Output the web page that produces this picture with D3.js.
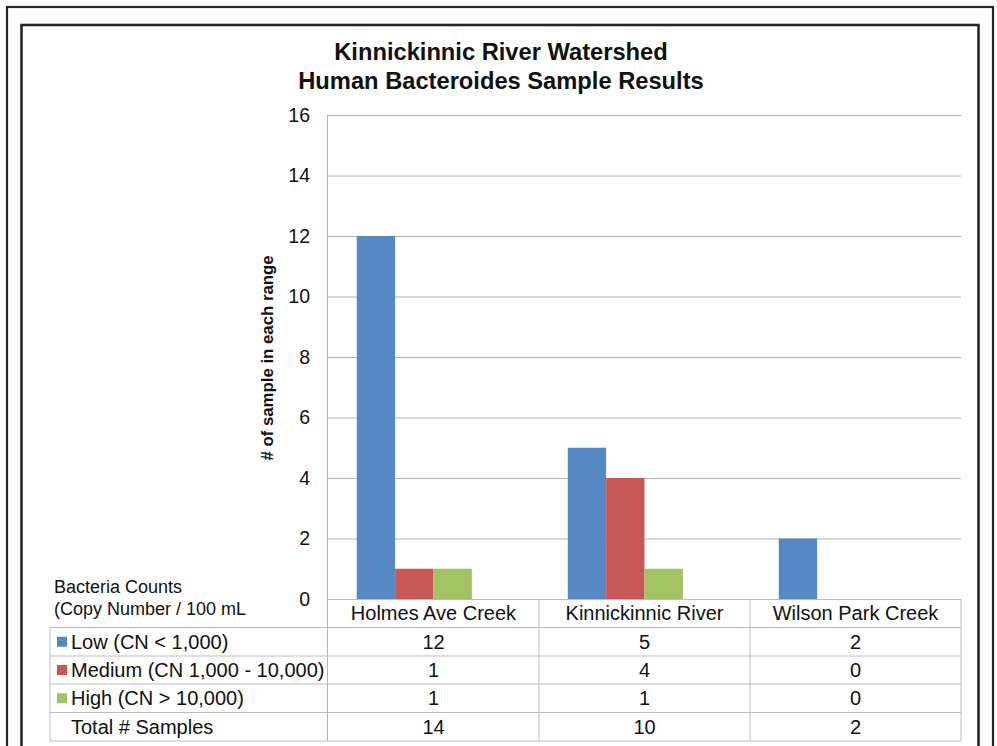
<!DOCTYPE html>
<html>
<head>
<meta charset="utf-8">
<script src="https://cdn.jsdelivr.net/npm/d3@7"></script>
<style>
  html, body { margin: 0; padding: 0; background: #fff; }
  svg { display: block; }
  text { font-family: "Liberation Sans", Arial, sans-serif; fill: #111; }
</style>
</head>
<body>
<svg id="chart" width="997" height="746"></svg>
<script>
const titleLines = ["Kinnickinnic River Watershed", "Human Bacteroides Sample Results"];
const yAxisTitle = "# of sample in each range";
const tableHeader = ["Bacteria Counts", "(Copy Number / 100 mL"];
const categories = ["Holmes Ave Creek", "Kinnickinnic River", "Wilson Park Creek"];
const seriesNames = ["Low (CN < 1,000)", "Medium (CN 1,000 - 10,000)", "High (CN > 10,000)"];
const seriesColors = ["#5689c4", "#c85855", "#a3c264"];
const lowValues = [12, 5, 2];
const mediumValues = [1, 4, 0];
const highValues = [1, 1, 0];
const totalLabel = "Total # Samples";
const totalValues = [14, 10, 2];
const yTicks = [0, 2, 4, 6, 8, 10, 12, 14, 16];

const seriesValues = [lowValues, mediumValues, highValues];

const svg = d3.select("#chart");

// frame borders
svg.append("rect").attr("x", 7).attr("y", 7).attr("width", 986).attr("height", 760)
  .attr("fill", "none").attr("stroke", "#262626").attr("stroke-width", 2.2);
svg.append("rect").attr("x", 21.5).attr("y", 25).attr("width", 957).attr("height", 740)
  .attr("fill", "none").attr("stroke", "#262626").attr("stroke-width", 2.6);

// scales
const plotLeft = 328, plotRight = 961, plotTop = 115, plotBottom = 599;
const x = d3.scaleBand().domain(categories).range([plotLeft, plotRight]).padding(0);
const xs = d3.scaleBand().domain(seriesNames).range([0, x.bandwidth()])
  .paddingInner(0).paddingOuter(1.25).align(0.3);
const y = d3.scaleLinear().domain([0, 16]).range([plotBottom, plotTop]);

const gridColor = "#b4b4b4";

// gridlines
svg.append("g").selectAll("line").data(yTicks.filter(d => d > 0)).join("line")
  .attr("x1", plotLeft).attr("x2", plotRight)
  .attr("y1", d => y(d) + 0.5).attr("y2", d => y(d) + 0.5)
  .attr("stroke", gridColor).attr("stroke-width", 1);

// y axis using d3 axis
const yAxis = d3.axisLeft(y).tickValues(yTicks).tickSize(0).tickPadding(18).tickFormat(d3.format("d"));
const yg = svg.append("g").attr("transform", `translate(${plotLeft},0)`).call(yAxis);
yg.select(".domain").remove();
yg.selectAll("text").style("font-size", "19.5px").style("font-family", '"Liberation Sans", Arial, sans-serif').attr("fill", "#111");

// bars
const groups = svg.append("g").selectAll("g").data(seriesNames).join("g")
  .attr("fill", (d, i) => seriesColors[i]);
groups.selectAll("rect").data((s, si) => categories.map((c, ci) => ({ c, s, v: seriesValues[si][ci] })))
  .join("rect")
  .attr("x", d => x(d.c) + xs(d.s))
  .attr("width", xs.bandwidth())
  .attr("y", d => y(d.v))
  .attr("height", d => y(0) - y(d.v));

// table
const tableLeft = 50;
const rowEdges = [599, 627.5, 656, 684, 712.5, 741];
const tg = svg.append("g").attr("stroke", "#bdbdbd").attr("stroke-width", 1);
tg.append("line").attr("x1", plotLeft).attr("x2", plotRight).attr("y1", rowEdges[0] + 0.5).attr("y2", rowEdges[0] + 0.5);
rowEdges.slice(1).forEach(r => {
  tg.append("line").attr("x1", tableLeft).attr("x2", plotRight).attr("y1", r).attr("y2", r);
});
tg.append("line").attr("x1", tableLeft).attr("x2", tableLeft).attr("y1", rowEdges[1]).attr("y2", rowEdges[5]);
tg.append("line").attr("x1", plotLeft - 0.5).attr("x2", plotLeft - 0.5).attr("y1", plotTop).attr("y2", rowEdges[5]).attr("stroke", gridColor);
categories.forEach(c => {
  const xe = x(c) + x.bandwidth();
  tg.append("line").attr("x1", xe).attr("x2", xe).attr("y1", rowEdges[0]).attr("y2", rowEdges[5]);
});

const rowMid = i => (rowEdges[i] + rowEdges[i + 1]) / 2;
const fs = "20px";

// category labels
svg.append("g").selectAll("text").data(categories).join("text")
  .attr("x", d => x(d) + x.bandwidth() / 2).attr("y", rowMid(0)).attr("dy", "0.36em")
  .attr("text-anchor", "middle").style("font-size", fs).text(d => d);

// series rows
seriesNames.forEach((s, si) => {
  const ym = rowMid(si + 1);
  svg.append("rect").attr("x", 57).attr("y", ym - 5).attr("width", 10).attr("height", 10).attr("fill", seriesColors[si]);
  svg.append("text").attr("x", 71).attr("y", ym).attr("dy", "0.36em").style("font-size", fs).text(s);
  svg.append("g").selectAll("text").data(categories).join("text")
    .attr("x", d => x(d) + x.bandwidth() / 2).attr("y", ym).attr("dy", "0.36em")
    .attr("text-anchor", "middle").style("font-size", fs)
    .text((d, ci) => seriesValues[si][ci]);
});
// total row
{
  const ym = rowMid(4);
  svg.append("text").attr("x", 71).attr("y", ym).attr("dy", "0.36em").style("font-size", fs).text(totalLabel);
  svg.append("g").selectAll("text").data(categories).join("text")
    .attr("x", d => x(d) + x.bandwidth() / 2).attr("y", ym).attr("dy", "0.36em")
    .attr("text-anchor", "middle").style("font-size", fs)
    .text((d, ci) => totalValues[ci]);
}

// table header label
svg.append("text").attr("x", 54).attr("y", 593).style("font-size", "18px").text(tableHeader[0]);
svg.append("text").attr("x", 54).attr("y", 615).style("font-size", "18px").text(tableHeader[1]);

// title
svg.append("g").selectAll("text").data(titleLines).join("text")
  .attr("x", 501).attr("y", (d, i) => 60 + i * 29)
  .attr("text-anchor", "middle").style("font-size", "23.7px").style("font-weight", "bold")
  .text(d => d);

// y axis title
svg.append("text").attr("transform", "translate(273,358) rotate(-90)")
  .attr("text-anchor", "middle").style("font-size", "16.8px").style("font-weight", "bold")
  .text(yAxisTitle);
</script>
</body>
</html>
